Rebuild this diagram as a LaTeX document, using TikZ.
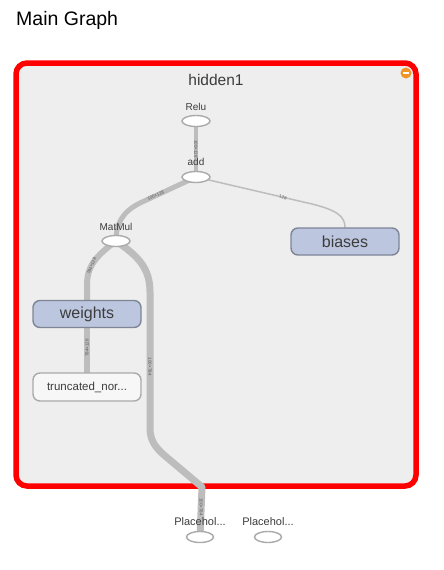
\documentclass[tikz,border=0pt]{standalone}
\usepackage{fontspec}
\setmainfont{Liberation Sans}
\usetikzlibrary{shapes.geometric}
\pgfdeclarelayer{bg}
\pgfdeclarelayer{edges}
\pgfsetlayers{bg,edges,main}
\definecolor{boxred}{RGB}{255,0,0}
\definecolor{boxfill}{RGB}{238,238,238}
\definecolor{edgegray}{RGB}{189,189,189}
\definecolor{opstroke}{RGB}{170,170,170}
\definecolor{varfill}{RGB}{188,198,222}
\definecolor{varstroke}{RGB}{125,133,150}
\definecolor{txtgray}{RGB}{60,60,60}
\definecolor{lblgray}{RGB}{90,90,90}
\definecolor{iconorange}{RGB}{240,150,40}
\tikzset{
  opnode/.style={ellipse, draw=opstroke, fill=white, line width=1.4pt, minimum width=28pt, minimum height=11pt, inner sep=0pt},
  oplabel/.style={font=\fontsize{10}{12}\selectfont, text=txtgray, inner sep=0pt},
  varnode/.style={rectangle, rounded corners=7pt, draw=varstroke, fill=varfill, line width=1.4pt, minimum width=108pt, minimum height=27pt, inner sep=0pt, font=\fontsize{16}{19}\selectfont, text=txtgray},
  constnode/.style={rectangle, rounded corners=7pt, draw=opstroke, fill=white!97!black, line width=1.4pt, minimum width=108pt, minimum height=28pt, inner sep=0pt, font=\fontsize{11.5}{13}\selectfont, text=txtgray},
  edge/.style={draw=edgegray, line cap=round, line join=round},
  elabel/.style={font=\fontsize{4.5}{5}\selectfont, text=lblgray, inner sep=0pt}
}
\begin{document}
\begin{tikzpicture}[x=1pt,y=-1pt]
\useasboundingbox (0,0) rectangle (444,570);
\begin{pgfonlayer}{bg}
\fill[white] (0,0) rectangle (444,570);
\draw[draw=boxred, fill=boxfill, line width=5.5pt, rounded corners=11pt] (16,63) rectangle (416,486);
\end{pgfonlayer}
\node[anchor=base west, inner sep=0pt, font=\fontsize{19.5}{23}\selectfont] (title) at (16,25) {Main Graph};
\node[font=\fontsize{15.5}{18}\selectfont, text=txtgray, inner sep=0pt] (hid) at (216,80) {hidden1};
\node[circle, fill=iconorange, minimum size=11pt, inner sep=0pt] (icon) at (406,73) {};
\draw[white, line width=1.8pt] ([xshift=-3pt]icon.center) -- ([xshift=3pt]icon.center);
% ops
\node[oplabel] (relulab) at (196,107) {Relu};
\node[opnode] (relu) at (196,121) {};
\node[oplabel] (addlab) at (196,162) {add};
\node[opnode] (add) at (196,177) {};
\node[oplabel] (mmlab) at (116,227) {MatMul};
\node[opnode] (mm) at (116,241) {};
\node[varnode] (biases) at (345,241.5) {biases};
\node[varnode] (weights) at (87,314) {weights};
\node[constnode] (trunc) at (87,387) {truncated\_nor...};
\node[oplabel, font=\fontsize{11}{13}\selectfont] (ph1lab) at (200,522) {Placehol...};
\node[opnode, minimum width=27pt] (ph1) at (200,537) {};
\node[oplabel, font=\fontsize{11}{13}\selectfont] (ph2lab) at (268,522) {Placehol...};
\node[opnode, minimum width=27pt] (ph2) at (268,537) {};
% edges
\begin{pgfonlayer}{edges}
\draw[edge, line width=4pt] (add.center) -- node[elabel, rotate=-90] {100×128} (relu.center);
\draw[edge, line width=5pt] (add.center) -- (140,203) node[elabel, pos=0.72, sloped] {100×128} .. controls (122,212) and (116,224) .. (mm.center);
\draw[edge, line width=1.5pt] (add.center) -- (312,204) node[elabel, pos=0.75, sloped] {128} .. controls (336,210) and (345,216) .. (biases.north);
\draw[edge, line width=6pt] (mm.center) .. controls (96,256) and (87,266) .. (87,285) -- (weights.north);
\node[elabel, rotate=68] (mmwlab) at (91.5,266) {784×128};
\draw[edge, line width=6pt] (weights.south) -- node[elabel, pos=0.45, rotate=90] {784×128} (trunc.north);
\draw[edge, line width=7pt] (mm.center) .. controls (138,256) and (150,268) .. (150,292) -- node[elabel, pos=0.55, rotate=-90] {100×784} (150,428) .. controls (150,440) and (155,447) .. (164,455) -- (202,487) -- node[elabel, pos=0.4, rotate=-90] {100×784} (ph1.center);
\end{pgfonlayer}
\end{tikzpicture}
\end{document}
